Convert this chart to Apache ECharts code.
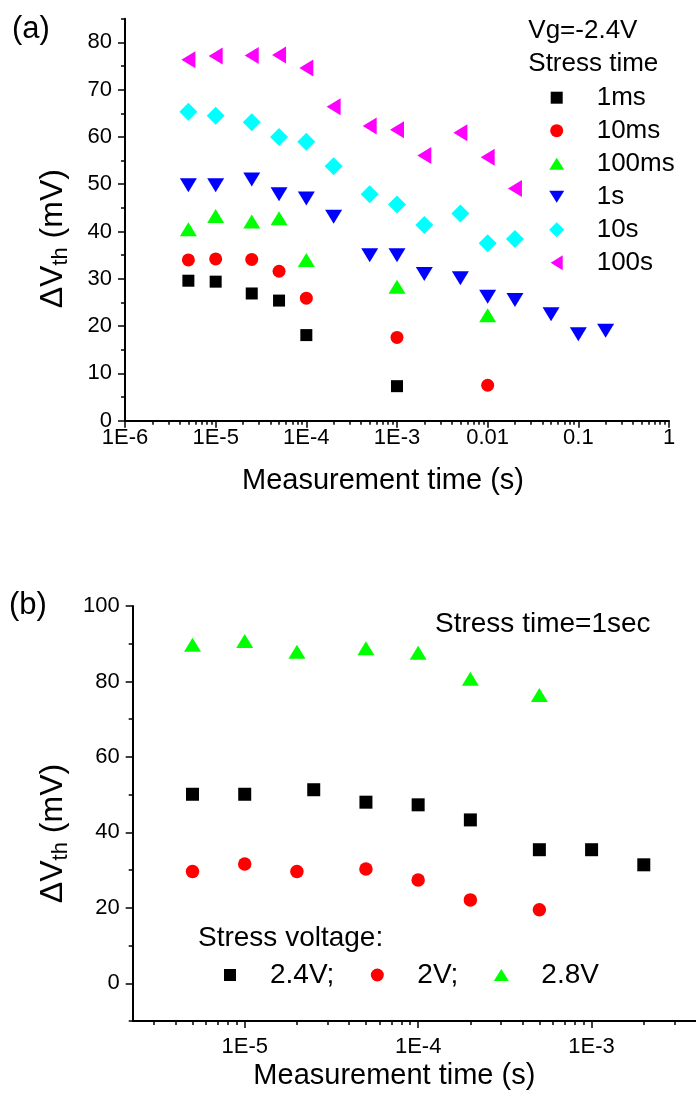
<!DOCTYPE html>
<html>
<head>
<meta charset="utf-8">
<script src="https://cdn.jsdelivr.net/npm/echarts@6/dist/echarts.min.js"></script>
<style>
  html, body { margin: 0; padding: 0; background: #fff; }
  #chart { width: 696px; height: 1094px; }
</style>
</head>
<body>
<div id="chart"></div>
<script>
// panel (a): Vg=-2.4V, one series per stress time
const ms1X = [5e-6, 1e-5, 2.5e-5, 5e-5, 1e-4, 1e-3];
const ms1Y = [29.6, 29.4, 26.9, 25.4, 18.1, 7.3];
const ms10X = [5e-6, 1e-5, 2.5e-5, 5e-5, 1e-4, 1e-3, 1e-2];
const ms10Y = [34.0, 34.2, 34.1, 31.6, 25.9, 17.6, 7.5];
const ms100X = [5e-6, 1e-5, 2.5e-5, 5e-5, 1e-4, 1e-3, 1e-2];
const ms100Y = [40.5, 43.3, 42.1, 42.8, 34.0, 28.3, 22.3];
const s1X = [5e-6, 1e-5, 2.5e-5, 5e-5, 1e-4, 2e-4, 5e-4, 1e-3, 2e-3, 5e-3, 1e-2, 2e-2, 5e-2, 0.1, 0.2];
const s1Y = [49.8, 49.8, 51.0, 47.9, 47.0, 43.1, 35.0, 35.0, 31.0, 30.1, 26.2, 25.5, 22.5, 18.3, 19.0];
const s10X = [5e-6, 1e-5, 2.5e-5, 5e-5, 1e-4, 2e-4, 5e-4, 1e-3, 2e-3, 5e-3, 1e-2, 2e-2];
const s10Y = [65.3, 64.5, 63.1, 60.0, 59.0, 53.8, 47.9, 45.7, 41.4, 43.8, 37.5, 38.4];
const s100X = [5e-6, 1e-5, 2.5e-5, 5e-5, 1e-4, 2e-4, 5e-4, 1e-3, 2e-3, 5e-3, 1e-2, 2e-2];
const s100Y = [76.3, 77.1, 77.2, 77.3, 74.6, 66.4, 62.3, 61.5, 56.1, 60.9, 55.7, 49.1];

// panel (b): stress time 1 s, one series per stress voltage
const v24X = [5e-6, 1e-5, 2.5e-5, 5e-5, 1e-4, 2e-4, 5e-4, 1e-3, 2e-3];
const v24Y = [50.1, 50.1, 51.3, 48.0, 47.3, 43.3, 35.4, 35.4, 31.4];
const v20X = [5e-6, 1e-5, 2e-5, 5e-5, 1e-4, 2e-4, 5e-4];
const v20Y = [29.6, 31.6, 29.6, 30.3, 27.4, 22.1, 19.5];
const v28X = [5e-6, 1e-5, 2e-5, 5e-5, 1e-4, 2e-4, 5e-4];
const v28Y = [89.7, 90.7, 87.9, 88.8, 87.6, 80.7, 76.4];

// tick labels
const aXTicks = [1e-6, 1e-5, 1e-4, 1e-3, 1e-2, 0.1, 1];
const aXLabels = ['1E-6', '1E-5', '1E-4', '1E-3', '0.01', '0.1', '1'];
const aYTicks = [0, 10, 20, 30, 40, 50, 60, 70, 80];
const bXTicks = [1e-5, 1e-4, 1e-3];
const bXLabels = ['1E-5', '1E-4', '1E-3'];
const bYTicks = [0, 20, 40, 60, 80, 100];

const FONT = 'Liberation Sans, Arial, sans-serif';
const lg = v => Math.log10(v);
const pts = (xs, ys) => xs.map((x, i) => [lg(x), ys[i]]);

// log-spaced minor ticks (2..9 per decade) inside a log10 range
function logMinors(lo, hi) {
    const out = [];
    for (let d = Math.floor(lo); d <= Math.ceil(hi); d++) {
        for (let m = 2; m <= 9; m++) {
            const v = d + Math.log10(m);
            if (v > lo && v < hi) out.push(v);
        }
    }
    return out;
}
function linMinors(ticks) {
    const out = [];
    for (let i = 0; i < ticks.length - 1; i++) out.push((ticks[i] + ticks[i + 1]) / 2);
    return out;
}

const black = '#000';
const aXMin = -6, aXMax = 0;
const bXMin = Math.log10(2.26e-6), bXMax = Math.log10(4e-3);

function mainX(grid, min, max, ticks, labels, nameGap, namePad) {
    const vals = ticks.map(lg);
    return {
        type: 'value', gridIndex: grid, position: 'bottom', min: min, max: max,
        axisLine: { show: true, onZero: false, lineStyle: { color: black, width: 2 } },
        axisTick: { show: true, customValues: vals, length: 7, lineStyle: { color: black, width: 1.5 } },
        axisLabel: {
            show: true, customValues: vals, margin: grid === 0 ? 6 : 15,
            color: black, fontSize: 22, fontFamily: FONT,
            formatter: v => labels[vals.findIndex(t => Math.abs(t - v) < 1e-6)] || ''
        },
        splitLine: { show: false },
        name: 'Measurement time (s)', nameLocation: 'middle', nameGap: nameGap,
        nameTextStyle: { color: black, fontSize: 29, fontFamily: FONT, padding: namePad }
    };
}
function minorX(grid, min, max) {
    return {
        type: 'value', gridIndex: grid, position: 'bottom', min: min, max: max,
        axisLine: { show: false, onZero: false },
        axisTick: { show: true, customValues: logMinors(min, max), length: 4, lineStyle: { color: black, width: 1.5 } },
        axisLabel: { show: false },
        splitLine: { show: false }
    };
}
function mainY(grid, min, max, ticks, nameGap, namePad) {
    return {
        type: 'value', gridIndex: grid, position: 'left', min: min, max: max,
        axisLine: { show: true, onZero: false, lineStyle: { color: black, width: 2 } },
        axisTick: { show: true, customValues: ticks, length: 7, lineStyle: { color: black, width: 1.5 } },
        axisLabel: { show: true, customValues: ticks, margin: 13, color: black, fontSize: 22, fontFamily: FONT },
        splitLine: { show: false },
        name: '{a|ΔV}{b|th}{a| (mV)}', nameLocation: 'middle', nameRotate: 90, nameGap: nameGap,
        nameTextStyle: {
            color: black, fontFamily: FONT, padding: namePad,
            rich: {
                a: { fontSize: 32, fontFamily: FONT, color: black, lineHeight: 36 },
                b: { fontSize: 22, fontFamily: FONT, color: black, lineHeight: 36, padding: [15, 0, 0, 0] }
            }
        }
    };
}
function minorY(grid, min, max, ticks) {
    return {
        type: 'value', gridIndex: grid, position: 'left', min: min, max: max,
        axisLine: { show: false, onZero: false },
        axisTick: { show: true, customValues: linMinors(ticks), length: 4, lineStyle: { color: black, width: 1.5 } },
        axisLabel: { show: false },
        splitLine: { show: false }
    };
}

function scatter(name, xs, ys, axis, symbol, size, rotate, color) {
    return {
        type: 'scatter', name: name, xAxisIndex: axis, yAxisIndex: axis,
        data: pts(xs, ys), symbol: symbol, symbolSize: size, symbolRotate: rotate,
        itemStyle: { color: color, opacity: 1 }, z: 5
    };
}

// legend icons: every path spans a 15x15 box (corner moveTo points), so the
// shapes keep their own sizes when fitted to the legend item height
const icoSquare = 'path://M0,0M1.5,1.5H13.5V13.5H1.5ZM15,15';
const icoCircle = 'path://M0,0M1,7.5A6.5,6.5 0 1 1 14,7.5A6.5,6.5 0 1 1 1,7.5ZM15,15';
const icoUp = 'path://M0,0M7.5,1.5L15,13.5H0ZM15,15';
const icoDown = 'path://M0,0M0,1.5H15L7.5,13.5ZM15,15';
const icoLeft = 'path://M0,0M1.5,7.5L13.5,0V15ZM15,15';
const icoDiamond = 'path://M7.5,0L15,7.5L7.5,15L0,7.5Z';

const option = {
    animation: false,
    backgroundColor: '#fff',
    textStyle: { fontFamily: FONT },
    grid: [
        { left: 125, top: 18.7, width: 544, height: 402 },
        { left: 132.7, top: 606, width: 565.3, height: 415 }
    ],
    xAxis: [
        mainX(0, aXMin, aXMax, aXTicks, aXLabels, 46, [0, 28, 0, 0]),
        minorX(0, aXMin, aXMax),
        mainX(1, bXMin, bXMax, bXTicks, bXLabels, 40, [0, 40, 0, 0]),
        minorX(1, bXMin, bXMax)
    ],
    yAxis: [
        mainY(0, 0, 85, aYTicks, 54, [0, 38, 0, 0]),
        minorY(0, 0, 85, aYTicks.concat([90])),
        mainY(1, -10, 100, bYTicks, 61, [0, 40, 0, 0]),
        minorY(1, -10, 100, [-20].concat(bYTicks))
    ],
    legend: [
        {
            data: [
                { name: '1ms', icon: icoSquare },
                { name: '10ms', icon: icoCircle },
                { name: '100ms', icon: icoUp },
                { name: '1s', icon: icoDown },
                { name: '10s', icon: icoDiamond },
                { name: '100s', icon: icoLeft }
            ],
            // box is placed by its drawn content: icon edge sits at left
            orient: 'vertical', left: 549.2, top: 84.7, padding: 0,
            itemWidth: 70, itemHeight: 15, itemGap: 7, selectedMode: false,
            symbolKeepAspect: true, symbolRotate: 0,
            textStyle: { fontSize: 26, lineHeight: 26, color: black, fontFamily: FONT }
        },
        {
            data: [
                { name: '2.4V;', icon: icoSquare },
                { name: '2V;', icon: icoCircle },
                { name: '2.8V', icon: icoUp }
            ],
            orient: 'horizontal', left: 222.5, top: 961, padding: 0,
            itemWidth: 70, itemHeight: 15, itemGap: 35.5, selectedMode: false,
            symbolKeepAspect: true, symbolRotate: 0,
            textStyle: { fontSize: 28, lineHeight: 26, color: black, fontFamily: FONT }
        }
    ],
    graphic: [
        { type: 'text', x: 12, y: 29, style: { text: '(a)', fontSize: 31, fontFamily: FONT, fill: black, align: 'left', verticalAlign: 'middle' } },
        { type: 'text', x: 9, y: 605, style: { text: '(b)', fontSize: 31, fontFamily: FONT, fill: black, align: 'left', verticalAlign: 'middle' } },
        { type: 'text', x: 528.3, y: 31, style: { text: 'Vg=-2.4V', fontSize: 26, fontFamily: FONT, fill: black, align: 'left', verticalAlign: 'middle' } },
        { type: 'text', x: 528.3, y: 64, style: { text: 'Stress time', fontSize: 26, fontFamily: FONT, fill: black, align: 'left', verticalAlign: 'middle' } },
        { type: 'text', x: 435, y: 624, style: { text: 'Stress time=1sec', fontSize: 28, fontFamily: FONT, fill: black, align: 'left', verticalAlign: 'middle' } },
        { type: 'text', x: 198, y: 938, style: { text: 'Stress voltage:', fontSize: 28, fontFamily: FONT, fill: black, align: 'left', verticalAlign: 'middle' } }
    ],
    series: [
        scatter('1ms', ms1X, ms1Y, 0, 'rect', 12, 0, '#000000'),
        scatter('10ms', ms10X, ms10Y, 0, 'circle', 13, 0, '#ff0000'),
        scatter('100ms', ms100X, ms100Y, 0, 'triangle', [17, 14], 0, '#00ff00'),
        scatter('1s', s1X, s1Y, 0, 'triangle', [17, 14], 180, '#0000ff'),
        scatter('10s', s10X, s10Y, 0, 'diamond', [18, 18], 0, '#00ffff'),
        scatter('100s', s100X, s100Y, 0, 'triangle', [17, 14], 90, '#ff00ff'),
        scatter('2.4V;', v24X, v24Y, 2, 'rect', 13, 0, '#000000'),
        scatter('2V;', v20X, v20Y, 2, 'circle', 13.5, 0, '#ff0000'),
        scatter('2.8V', v28X, v28Y, 2, 'triangle', [17, 14], 0, '#00ff00')
    ]
};

const chart = echarts.init(document.getElementById('chart'), null, { renderer: 'canvas' });
chart.setOption(option);
</script>
</body>
</html>
